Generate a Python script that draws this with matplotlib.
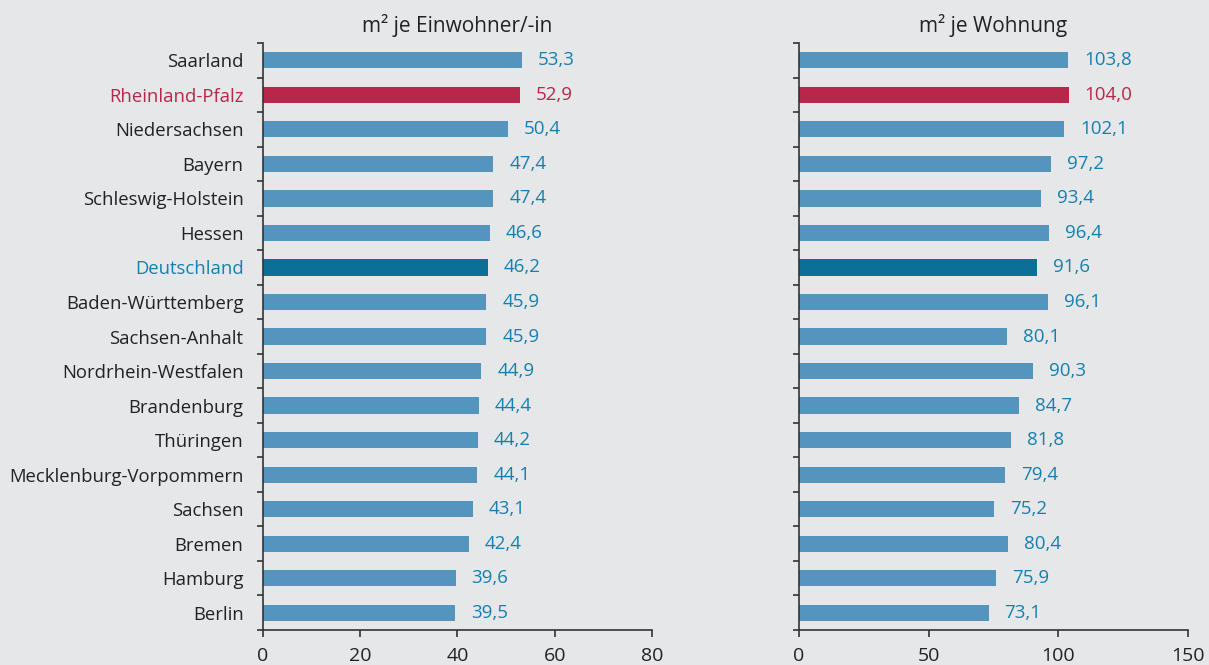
import numpy as np
import matplotlib.pyplot as plt

plt.rcParams['font.family'] = ['Open Sans', 'DejaVu Sans']

laender = ["Saarland", "Rheinland-Pfalz", "Niedersachsen", "Bayern", "Schleswig-Holstein",
           "Hessen", "Deutschland", "Baden-Württemberg", "Sachsen-Anhalt",
           "Nordrhein-Westfalen", "Brandenburg", "Thüringen", "Mecklenburg-Vorpommern",
           "Sachsen", "Bremen", "Hamburg", "Berlin"]
je_einwohner = [53.3, 52.9, 50.4, 47.4, 47.4, 46.6, 46.2, 45.9, 45.9, 44.9, 44.4,
                44.2, 44.1, 43.1, 42.4, 39.6, 39.5]
je_wohnung = [103.8, 104.0, 102.1, 97.2, 93.4, 96.4, 91.6, 96.1, 80.1, 90.3, 84.7,
              81.8, 79.4, 75.2, 80.4, 75.9, 73.1]

bg = "#e6e7e9"
c_bar = "#5595bd"
c_de = "#0b6f98"
c_rp = "#b8264a"
c_txt = "#1580b0"
c_axis = "#333333"

def farbe(name, normal):
    if name == "Rheinland-Pfalz":
        return c_rp
    if name == "Deutschland":
        return c_de
    return normal

fig = plt.figure(figsize=(12.09, 6.65), dpi=100, facecolor=bg)
ax1 = fig.add_axes([0.2175, 0.0526, 0.3218, 0.8827])
ax2 = fig.add_axes([0.6609, 0.0526, 0.3218, 0.8827])

y = np.arange(len(laender))

for ax, werte, xmax, step, titel in [(ax1, je_einwohner, 80, 20, "m² je Einwohner/-in"),
                                     (ax2, je_wohnung, 150, 50, "m² je Wohnung")]:
    ax.set_facecolor(bg)
    farben = [farbe(n, c_bar) for n in laender]
    ax.barh(y, werte, height=0.47, color=farben)
    off = xmax * 0.041
    for yi, w, n in zip(y, werte, laender):
        tc = c_rp if n == "Rheinland-Pfalz" else c_txt
        ax.text(w + off, yi, f"{w:.1f}".replace(".", ","), va="center", ha="left",
                fontsize=13.5, color=tc)
    ax.set_xlim(0, xmax)
    ax.set_ylim(len(laender) - 0.5, -0.5)
    ax.set_xticks(np.arange(0, xmax + 1, step))
    ax.set_yticks(y)
    ax.set_yticks(np.arange(-0.5, len(laender), 1), minor=True)
    ax.tick_params(axis="y", which="major", length=0, pad=14)
    ax.tick_params(axis="y", which="minor", length=4, width=1.2, color=c_axis)
    ax.tick_params(axis="x", length=5, width=1.2, color=c_axis, labelsize=14,
                   labelcolor="#222222", pad=7)
    for s in ["top", "right"]:
        ax.spines[s].set_visible(False)
    for s in ["left", "bottom"]:
        ax.spines[s].set_color(c_axis)
        ax.spines[s].set_linewidth(1.2)
    ax.set_title(titel, fontsize=15, color="#222222", pad=8)

ax1.set_yticklabels(laender, fontsize=13.3)
for lbl, n in zip(ax1.get_yticklabels(), laender):
    lbl.set_color(c_rp if n == "Rheinland-Pfalz" else (c_txt if n == "Deutschland" else "#222222"))
ax2.set_yticklabels([])

fig.savefig("out.png", dpi=100, facecolor=bg)
